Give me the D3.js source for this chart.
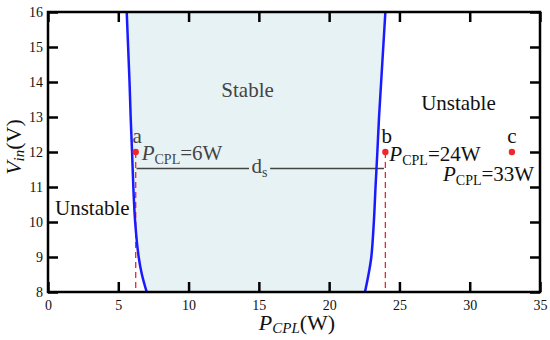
<!doctype html>
<html lang="en">
<head>
<meta charset="UTF-8">
<script src="https://d3js.org/d3.v7.min.js"></script>
<style>
  body { margin: 0; background: #fff; }
  svg text { font-family: "Liberation Serif", "Times New Roman", serif; }
</style>
</head>
<body>
<svg id="chart" width="550" height="340"></svg>
<script>
// boundary curves
var boundaryV = [8, 8.5, 9, 10, 11, 12, 13, 14, 15, 16];
var leftP = [7.02, 6.68, 6.45, 6.2, 6.07, 5.98, 5.88, 5.8, 5.7, 5.6];
var rightP = [22.55, 22.8, 23.0, 23.18, 23.3, 23.43, 23.55, 23.7, 23.85, 24.0];

// operating points
var pointLabels = ["a", "b", "c"];
var pointP = [6.24, 24, 33];
var pointV = [12, 12, 12];
var pointText = ["6W", "24W", "33W"];

var xTicks = [0, 5, 10, 15, 20, 25, 30, 35];
var yTicks = [8, 9, 10, 11, 12, 13, 14, 15, 16];
var dsV = 11.53;

var svg = d3.select("#chart");
var mLeft = 48, mRight = 540, mTop = 12, mBottom = 292;

var x = d3.scaleLinear().domain([0, 35]).range([mLeft, mRight]);
var y = d3.scaleLinear().domain([8, 16]).range([mBottom, mTop]);

var rows = boundaryV.map(function (v, i) {
    return {v: v, l: leftP[i], r: rightP[i]};
});

// stable region
var area = d3.area()
    .y(function (d) { return y(d.v); })
    .x0(function (d) { return x(d.l); })
    .x1(function (d) { return x(d.r); })
    .curve(d3.curveCatmullRom);
svg.append("path").datum(rows)
    .attr("d", area)
    .attr("fill", "#e7f2f5");

// region labels
svg.append("text").attr("x", x(14.2)).attr("y", y(13.57))
    .attr("text-anchor", "middle").attr("font-size", 21).attr("fill", "#444")
    .text("Stable");
svg.append("text").attr("x", x(29.2)).attr("y", y(13.2))
    .attr("text-anchor", "middle").attr("font-size", 21).attr("fill", "#111")
    .text("Unstable");
svg.append("text").attr("x", 55).attr("y", y(10.2))
    .attr("font-size", 21).attr("fill", "#111")
    .text("Unstable");

// ds line
var dsGap = [x(14.3), x(15.8)];
svg.append("line").attr("x1", x(6.3)).attr("x2", dsGap[0])
    .attr("y1", y(dsV)).attr("y2", y(dsV))
    .attr("stroke", "#444").attr("stroke-width", 1.4);
svg.append("line").attr("x1", dsGap[1]).attr("x2", x(23.9))
    .attr("y1", y(dsV)).attr("y2", y(dsV))
    .attr("stroke", "#444").attr("stroke-width", 1.4);
var ds = svg.append("text").attr("x", x(15.05)).attr("y", y(dsV) + 5)
    .attr("text-anchor", "middle").attr("font-size", 21).attr("fill", "#444");
ds.append("tspan").text("d");
ds.append("tspan").attr("font-size", 14).attr("dy", 4).text("s");

// red dashed lines to x axis
[0, 1].forEach(function (i) {
    svg.append("line")
        .attr("x1", x(pointP[i])).attr("x2", x(pointP[i]))
        .attr("y1", y(pointV[i])).attr("y2", y(8))
        .attr("stroke", "#e8262b").attr("stroke-width", 1.3)
        .attr("stroke-dasharray", "6,4");
});

// boundary curves
var line = d3.line()
    .y(function (d) { return y(d.v); })
    .curve(d3.curveCatmullRom);
svg.append("path").datum(rows)
    .attr("d", line.x(function (d) { return x(d.l); }))
    .attr("fill", "none").attr("stroke", "#1a1aff").attr("stroke-width", 2.5);
svg.append("path").datum(rows)
    .attr("d", line.x(function (d) { return x(d.r); }))
    .attr("fill", "none").attr("stroke", "#1a1aff").attr("stroke-width", 2.5);

// points
svg.selectAll("circle.pt").data(pointP).enter().append("circle")
    .attr("class", "pt")
    .attr("cx", function (d) { return x(d); })
    .attr("cy", function (d, i) { return y(pointV[i]); })
    .attr("r", 3.2).attr("fill", "#f0262b");
svg.selectAll("text.ptlab").data(pointLabels).enter().append("text")
    .attr("class", "ptlab")
    .attr("x", function (d, i) { return x(pointP[i]) + (i === 2 ? 0 : 1.5); })
    .attr("y", function (d, i) { return y(pointV[i]) - 9; })
    .attr("text-anchor", "middle").attr("font-size", 21)
    .attr("fill", function (d, i) { return i === 0 ? "#444" : "#111"; })
    .text(function (d) { return d; });

// P_CPL annotations
var annPos = [[x(pointP[0]) + 6, y(12) + 8, "#444"], [x(pointP[1]) + 4, y(12) + 9, "#111"], [443, y(12) + 29, "#111"]];
pointText.forEach(function (t, i) {
    var tx = svg.append("text").attr("x", annPos[i][0]).attr("y", annPos[i][1])
        .attr("font-size", 21).attr("fill", annPos[i][2]);
    tx.append("tspan").attr("font-style", "italic").text("P");
    tx.append("tspan").attr("font-size", 14).attr("dy", 4).text("CPL");
    tx.append("tspan").attr("dy", -4).text("=" + t);
});

// axes: ticks inward on all four sides
var tickLen = 10;
svg.append("g").attr("transform", "translate(0," + mBottom + ")")
    .call(d3.axisBottom(x).tickValues(xTicks).tickSize(-tickLen).tickPadding(8))
    .call(function (g) { g.select(".domain").remove(); });
svg.append("g").attr("transform", "translate(0," + mTop + ")")
    .call(d3.axisTop(x).tickValues(xTicks).tickSize(-tickLen).tickFormat(""))
    .call(function (g) { g.select(".domain").remove(); });
svg.append("g").attr("transform", "translate(" + mLeft + ",0)")
    .call(d3.axisLeft(y).tickValues(yTicks).tickSize(-tickLen).tickPadding(5))
    .call(function (g) { g.select(".domain").remove(); });
svg.append("g").attr("transform", "translate(" + mRight + ",0)")
    .call(d3.axisRight(y).tickValues(yTicks).tickSize(-tickLen).tickFormat(""))
    .call(function (g) { g.select(".domain").remove(); });

svg.selectAll(".tick line").attr("stroke", "#000").attr("stroke-width", 2.5);
svg.selectAll(".tick text")
    .attr("font-size", 14).attr("fill", "#111");

svg.append("rect").attr("x", mLeft).attr("y", mTop)
    .attr("width", mRight - mLeft).attr("height", mBottom - mTop)
    .attr("fill", "none").attr("stroke", "#000").attr("stroke-width", 2.5);

// axis titles
var xt = svg.append("text").attr("x", 297).attr("y", 330)
    .attr("text-anchor", "middle").attr("font-size", 22).attr("fill", "#111");
xt.append("tspan").attr("font-style", "italic").text("P");
xt.append("tspan").attr("font-style", "italic").attr("font-size", 15).attr("dy", 3).text("CPL");
xt.append("tspan").attr("dy", -3).text("(W)");

var yt = svg.append("text")
    .attr("transform", "translate(21,147) rotate(-90)")
    .attr("text-anchor", "middle").attr("font-size", 22).attr("fill", "#111");
yt.append("tspan").attr("font-style", "italic").text("V");
yt.append("tspan").attr("font-style", "italic").attr("font-size", 15).attr("dy", 3).text("in");
yt.append("tspan").attr("dy", -3).text("(V)");
</script>
</body>
</html>
